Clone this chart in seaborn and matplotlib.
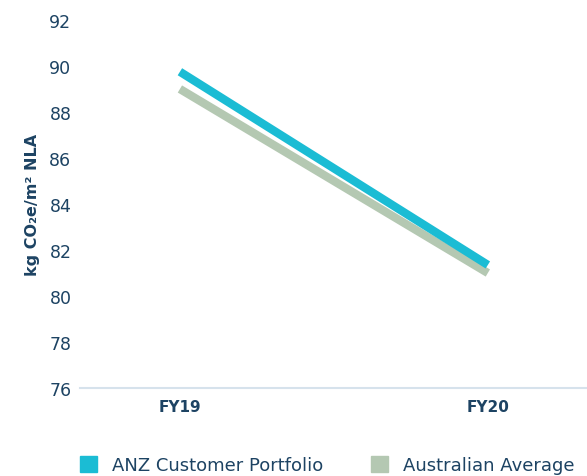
import pandas as pd
import numpy as np
import matplotlib
matplotlib.use("Agg")
import matplotlib.pyplot as plt
import matplotlib.patches as mpatches
import seaborn as sns

# Dati
years = ["FY19", "FY20"]
anz_portfolio = [89.75, 81.35]
aus_average = [89.0, 81.0]
series_names = ["ANZ Customer Portfolio", "Australian Average"]
y_ticks = [76, 78, 80, 82, 84, 86, 88, 90, 92]

colors = {"ANZ Customer Portfolio": "#1BBCD4", "Australian Average": "#B4C8B2"}
text_col = "#1D4363"

df = pd.DataFrame({
    "year": years * 2,
    "value": anz_portfolio + aus_average,
    "series": [series_names[0]] * 2 + [series_names[1]] * 2,
})
df["x"] = df["year"].map({y: i for i, y in enumerate(years)})

sns.set_theme(style="white")
plt.rcParams["font.family"] = ["DejaVu Sans"]

fig = plt.figure(figsize=(5.87, 4.77), dpi=100)
ax = fig.add_axes([0.136, 0.1845, 0.864, 0.7715])

# grigio sotto, ciano sopra
sns.lineplot(data=df, x="x", y="value", hue="series",
             hue_order=[series_names[1], series_names[0]],
             palette=colors, linewidth=6, legend=False, ax=ax,
             solid_capstyle="butt")

ax.set_xlim(-0.325, 1.322)
ax.set_ylim(76, 92)
ax.set_yticks(y_ticks)
ax.set_yticklabels([str(t) for t in y_ticks], color=text_col, fontsize=12.5)
ax.set_xticks(range(len(years)))
ax.set_xticklabels(years, color=text_col, fontsize=11, fontweight="bold")
ax.tick_params(axis="both", length=0, pad=8)
ax.tick_params(axis="y", pad=6)

for s in ["top", "right", "left"]:
    ax.spines[s].set_visible(False)
ax.spines["bottom"].set_color("#D6E2EC")
ax.spines["bottom"].set_linewidth(1.5)

ax.set_xlabel("")
ax.set_ylabel("kg CO\u2082e/m\u00b2 NLA", color=text_col, fontsize=11.5,
              fontweight="bold", labelpad=7)

handles = [mpatches.Patch(color=colors[n], label=n) for n in series_names]
fig.legend(handles=handles, loc="lower left", bbox_to_anchor=(80 / 587, 2 / 477),
           ncol=2, frameon=False, fontsize=13, handlelength=0.95,
           handleheight=0.95, columnspacing=2.6, handletextpad=0.85,
           borderpad=0, borderaxespad=0, labelcolor=text_col)

fig.savefig("out.png", dpi=100)
